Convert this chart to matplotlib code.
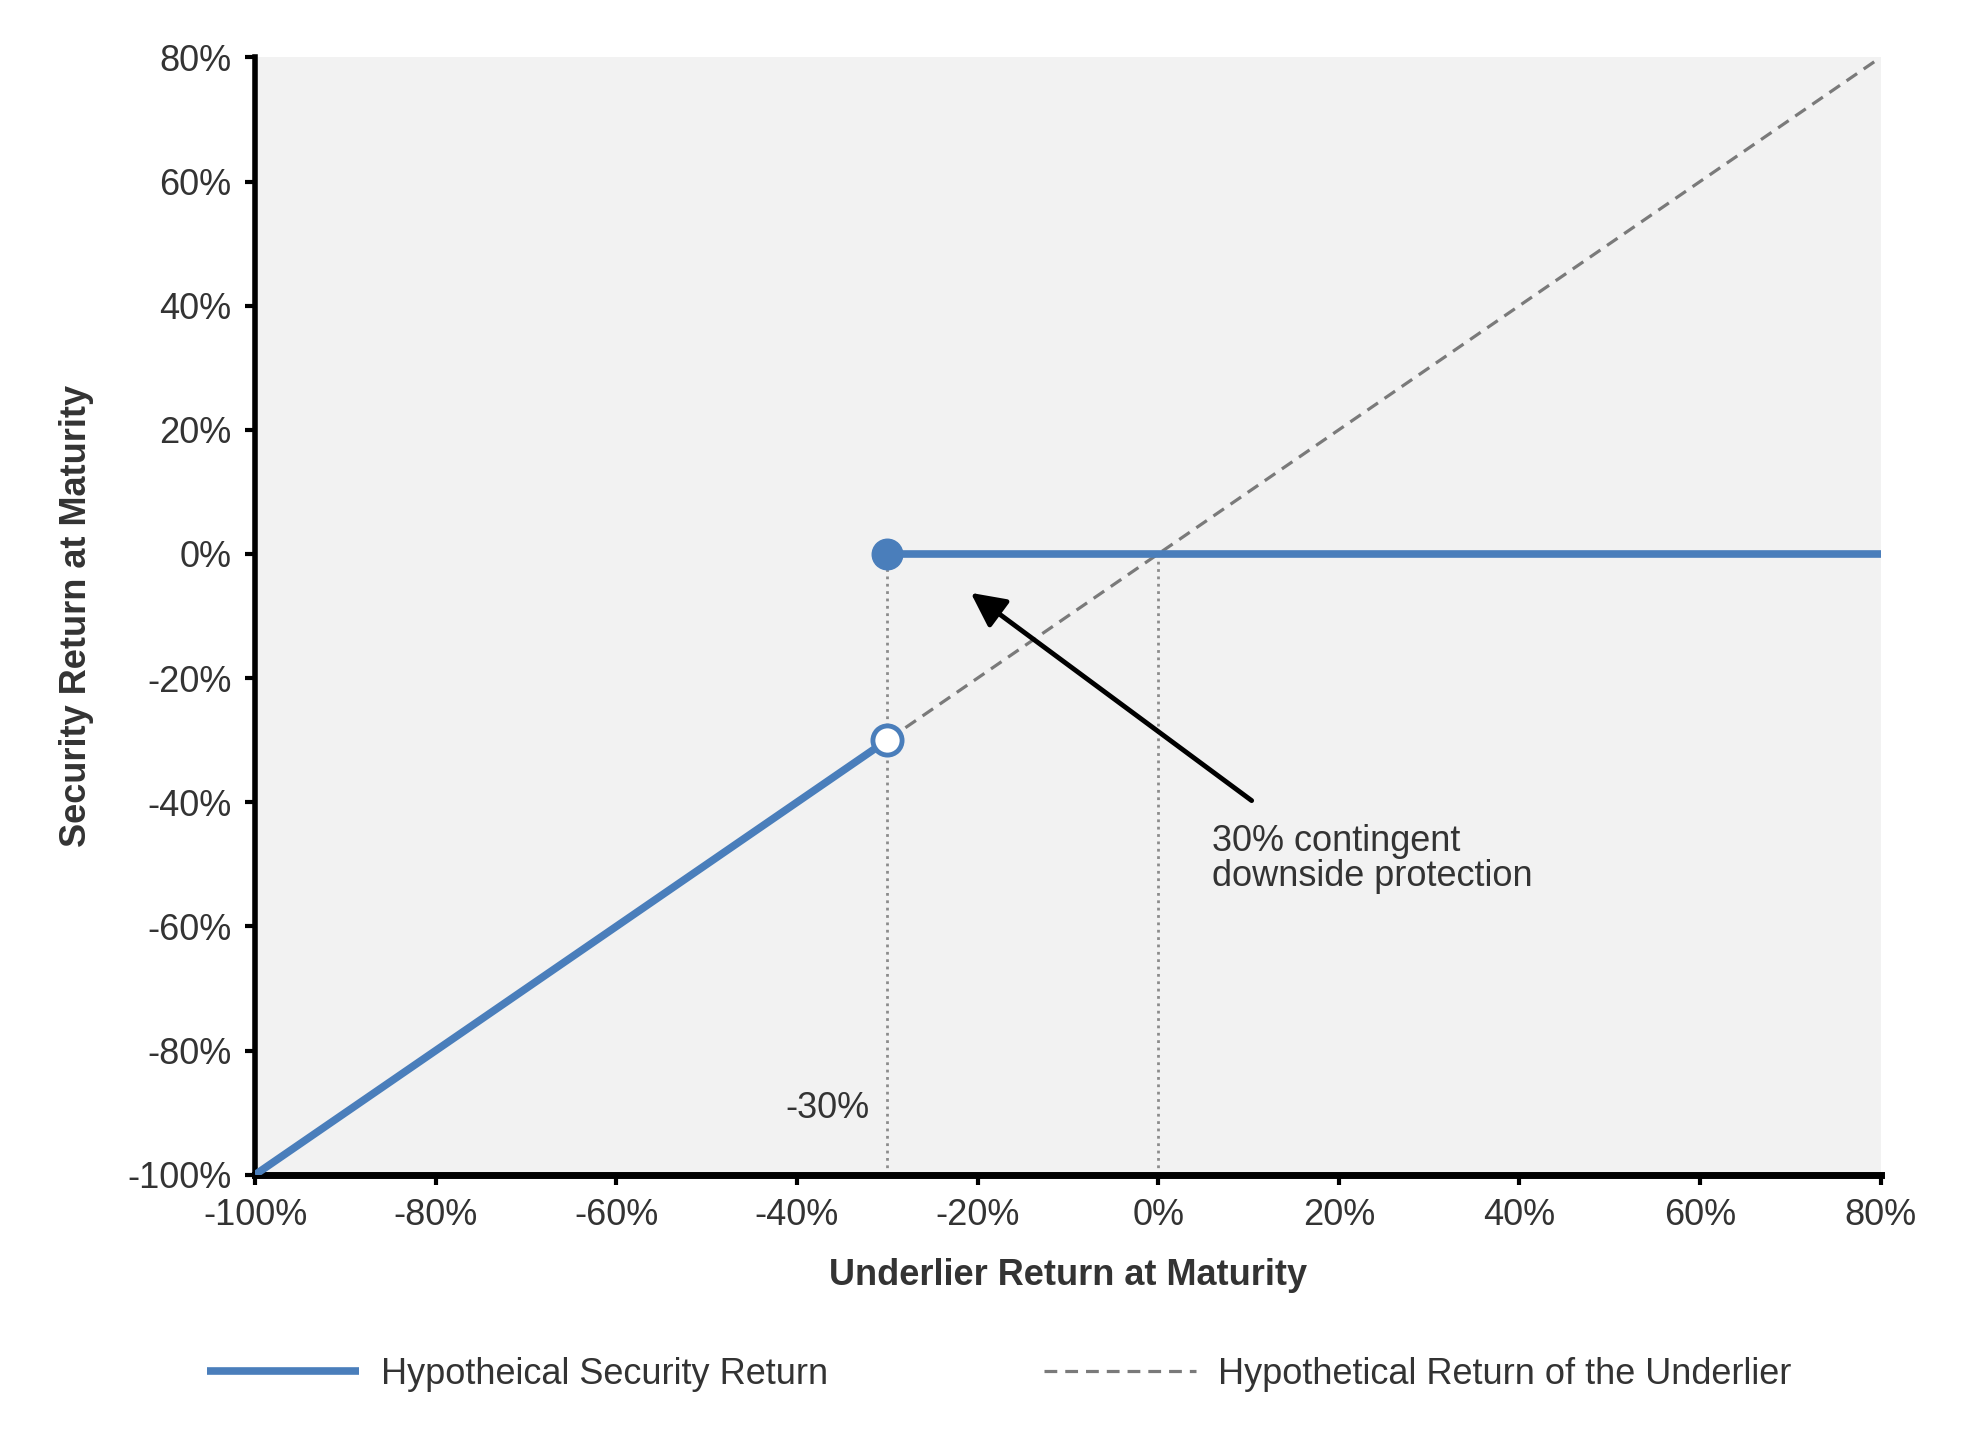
import numpy as np
import matplotlib.pyplot as plt

plt.rcParams['font.family'] = ['Liberation Sans', 'DejaVu Sans']

# data (percent)
underlier_x = [-100, 80]
underlier_y = [-100, 80]
loss_x = [-100, -30]
loss_y = [-100, -30]
protected_x = [-30, 80]
protected_y = [0, 0]
barrier = -30
xticks = np.arange(-100, 81, 20)
yticks = np.arange(-100, 81, 20)

blue = '#4a7ebb'
fs = 26

fig = plt.figure(figsize=(19.63, 14.36), dpi=100)
ax = fig.add_axes([0.130, 0.182, 0.828, 0.778])
ax.set_facecolor('#f2f2f2')

ax.plot(underlier_x, underlier_y, ls=(0, (4, 2.5)), color='#7a7a7a', lw=2.3,
        label='Hypothetical Return of the Underlier', zorder=2)
ax.plot(loss_x, loss_y, color=blue, lw=5.5, solid_capstyle='butt', zorder=3,
        label='Hypotheical Security Return')
ax.plot(protected_x, protected_y, color=blue, lw=5.5, zorder=3)
ax.plot([barrier], [0], 'o', color=blue, ms=22, zorder=4)
ax.plot([barrier], [barrier], 'o', mfc='white', mec=blue, mew=3.5, ms=21, zorder=4)

ax.vlines([barrier, 0], -100, 0, colors='#8c8c8c', linestyles=':', lw=2, zorder=1)
ax.text(-36.6, -89.3, '-30%', fontsize=fs, color='#333333', ha='center', va='center')

ax.annotate('', xy=(-21, -6), xytext=(10.6, -40),
            arrowprops=dict(arrowstyle='-|>', color='black', lw=3.5,
                            mutation_scale=52))
ax.text(6.0, -43.5, '30% contingent\ndownside protection', fontsize=fs,
        color='#333333', ha='left', va='top', linespacing=1.0)

ax.set_xlim(-100, 80)
ax.set_ylim(-100, 80)
ax.set_xticks(xticks)
ax.set_yticks(yticks)
ax.set_xticklabels([f'{v}%' for v in xticks])
ax.set_yticklabels([f'{v}%' for v in yticks])
ax.tick_params(labelsize=fs, colors='#333333', width=3, length=7, pad=10)
ax.tick_params(axis='both', color='black')
for s in ['top', 'right']:
    ax.spines[s].set_visible(False)
ax.spines['left'].set_linewidth(4)
ax.spines['bottom'].set_linewidth(5)

ax.set_xlabel('Underlier Return at Maturity', fontsize=fs, fontweight='bold',
              color='#333333', labelpad=18)
ax.set_ylabel('Security Return at Maturity', fontsize=fs, fontweight='bold',
              color='#333333', labelpad=24)

h, l = ax.get_legend_handles_labels()
fig.legend(h[::-1], l[::-1], loc='center', bbox_to_anchor=(0.509, 0.043),
           ncol=2, frameon=False, fontsize=fs, handlelength=4.2,
           handletextpad=0.6, columnspacing=6.0, labelcolor='#333333')

fig.savefig('out.png', dpi=100)
